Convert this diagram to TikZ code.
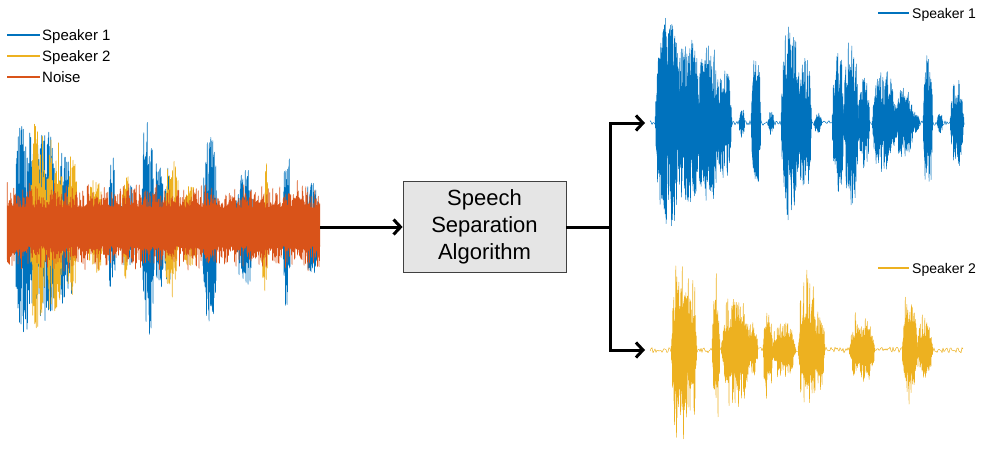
\documentclass[tikz,border=0pt]{standalone}
\usepackage{fontspec}
\setmainfont{Liberation Sans}
\usetikzlibrary{arrows.meta}
\definecolor{mblue}{rgb}{0,0.447,0.741}
\definecolor{morange}{rgb}{0.85,0.325,0.098}
\definecolor{myellow}{rgb}{0.929,0.694,0.125}
\begin{document}
\begin{tikzpicture}[x=1pt,y=-1pt,
  declare function={
    bump(\X,\M,\W)=max(0,1-((\X-\M)/\W)*((\X-\M)/\W));
    flat(\X,\M,\W)=bump(\X,\M,\W)*(2-bump(\X,\M,\W));
    sgn(\X)=1-2*mod(floor(\X*4+0.5),2);
  },
  wave/.style={line width=0.5pt, line join=round},
  legline/.style={line width=1.4pt},
  legtext/.style={anchor=base west, inner sep=0pt, font=\fontsize{15}{18}\selectfont},
  legtextr/.style={anchor=base west, inner sep=0pt, font=\fontsize{14}{17}\selectfont},
  algobox/.style={draw=black!75, line width=0.8pt, fill=black!10, minimum width=163pt, minimum height=91pt, inner sep=0pt, align=center, font=\fontsize{22}{26.7}\selectfont},
  conn/.style={line width=3pt, draw=black},
  tip/.style={-{Straight Barb[length=7pt,width=15pt,line width=3pt]}}
]
\useasboundingbox (0,0) rectangle (988,458);
\pgfmathsetseed{7}
% ---------- mixture (centre y = 227) ----------
\foreach \c/\w/\a in {25/12/105,45/12/98,66/11/78,112/4/70,128/8/42,148/7/110,159/5/75,168/4/60,210/8/95,245/10/58,287/4/80,312/7/48}{
  \pgfmathtruncatemacro\ns{8*\w+1}
  \draw[wave, mblue] plot[samples=\ns, domain={\c-\w}:{\c+\w}] ({\x}, {227+sgn(\x)*\a*flat(\x,\c,\w)*(0.25+0.75*rnd)});
}
\foreach \c/\w/\a in {38/8/110,54/10/88,72/6/72,95/9/48,126/5/52,172/8/72,190/8/42,265/4/66}{
  \pgfmathtruncatemacro\ns{8*\w+1}
  \draw[wave, myellow] plot[samples=\ns, domain={\c-\w}:{\c+\w}] ({\x}, {227-sgn(\x)*\a*flat(\x,\c,\w)*(0.25+0.75*rnd)});
}
\draw[wave, morange] plot[samples=1253, domain=7:320] ({\x}, {227+sgn(\x)*47*(0.4+0.6*rnd*rnd)});
% ---------- speaker 1 output (centre y = 123) ----------
\draw[wave, mblue] plot[samples=316, domain=650:965] ({\x}, {123+2.5*rand});
\foreach \c/\w/\a in {668/13/105,688/12/90,708/12/80,724/8/55,742/3/15,756/5/68,771/3/12,790/9/100,804/8/72,818/4/10,838/6/72,851/8/82,864/6/45,884/12/52,904/10/35,914/6/12,928/5/68,940/3/10,957/7/44}{
  \pgfmathtruncatemacro\ns{8*\w+1}
  \draw[wave, mblue] plot[samples=\ns, domain={\c-\w}:{\c+\w}] ({\x}, {123+sgn(\x)*\a*flat(\x,\c,\w)*(0.3+0.7*rnd)});
}
% ---------- speaker 2 output (centre y = 350) ----------
\draw[wave, myellow] plot[samples=314, domain=650:963] ({\x}, {350+3*rand});
\foreach \c/\w/\a in {680/9/112,691/6/86,716/4/86,736/15/66,752/6/35,768/5/58,784/12/35,808/10/82,820/5/45,862/13/42,910/8/72,925/8/40}{
  \pgfmathtruncatemacro\ns{8*\w+1}
  \draw[wave, myellow] plot[samples=\ns, domain={\c-\w}:{\c+\w}] ({\x}, {350+sgn(\x)*\a*flat(\x,\c,\w)*(0.3+0.7*rnd*rnd)});
}

% ---------- left legend ----------
\draw[legline, mblue] (7,35) -- (40,35);
\node[legtext] (l1) at (42,40.5) {Speaker 1};
\draw[legline, myellow] (7,56) -- (40,56);
\node[legtext] (l2) at (42,61.5) {Speaker 2};
\draw[legline, morange] (7,77) -- (40,77);
\node[legtext] (l3) at (42,82.5) {Noise};
% ---------- right legends ----------
\draw[legline, mblue] (878,13) -- (909,13);
\node[legtextr] (r1) at (912,18) {Speaker 1};
\draw[legline, myellow] (878,268) -- (909,268);
\node[legtextr] (r2) at (912,273) {Speaker 2};

% ---------- box and connectors ----------
\node[algobox] (alg) at (484.5,227) {Speech\\Separation\\Algorithm};
\coordinate (mixend) at (320,227);
\coordinate (junc) at (610,227);
\coordinate (out1) at (645,123);
\coordinate (out2) at (645,350);
\draw[conn, tip] (mixend) -- (alg.west);
\draw[conn] (alg.east) -- (junc);
\draw[conn, tip] (junc) |- (out1);
\draw[conn, tip] (junc) |- (out2);
\end{tikzpicture}
\end{document}
